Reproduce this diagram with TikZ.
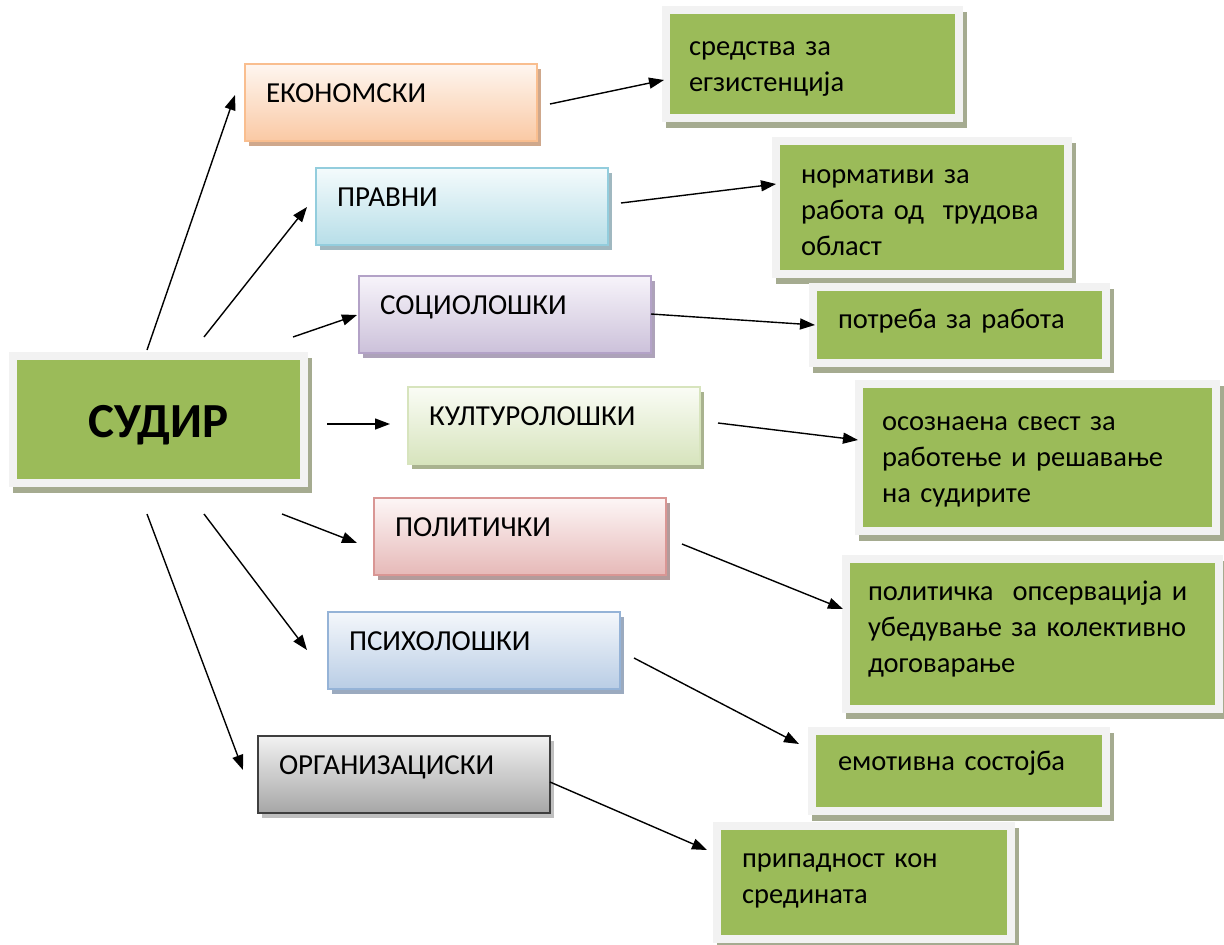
\documentclass[tikz,border=0pt]{standalone}
\usepackage{fontspec}
\setmainfont{Carlito}
\usetikzlibrary{arrows.meta,calc,shadows}
\definecolor{gfill}{HTML}{9BBB59}
\definecolor{gborder}{HTML}{F2F2F2}
\definecolor{gshadow}{HTML}{A5AB90}
\definecolor{ekoB}{HTML}{F9BE8F}\definecolor{ekoT}{HTML}{FEF6F0}\definecolor{ekoF}{HTML}{FAC9A4}\definecolor{ekoS}{HTML}{CFA88C}
\definecolor{praB}{HTML}{93CDDD}\definecolor{praT}{HTML}{F4FBFC}\definecolor{praF}{HTML}{B7DEE8}\definecolor{praS}{HTML}{A0B8C0}
\definecolor{socB}{HTML}{B3A2C7}\definecolor{socT}{HTML}{F7F4FA}\definecolor{socF}{HTML}{CCC1DA}\definecolor{socS}{HTML}{ADA2B9}
\definecolor{kulB}{HTML}{D7E4BD}\definecolor{kulT}{HTML}{FAFCF5}\definecolor{kulF}{HTML}{D7E4BD}\definecolor{kulS}{HTML}{A9B38F}
\definecolor{polB}{HTML}{D99694}\definecolor{polT}{HTML}{FDF6F6}\definecolor{polF}{HTML}{E6B9B8}\definecolor{polS}{HTML}{B39B9B}
\definecolor{psiB}{HTML}{95B3D7}\definecolor{psiT}{HTML}{F4F7FB}\definecolor{psiF}{HTML}{B9CDE5}\definecolor{psiS}{HTML}{9BAABF}
\definecolor{orgB}{HTML}{3F3F3F}\definecolor{orgT}{HTML}{F2F2F2}\definecolor{orgF}{HTML}{A6A6A6}\definecolor{orgS}{HTML}{BFBFBF}
\tikzset{
  cbox/.style={anchor=north west, rectangle, outer sep=0pt, line width=1.5pt, draw=#1B,
    top color=#1T, bottom color=#1F,
    drop shadow={shadow xshift=4pt, shadow yshift=-5pt, fill=#1S, opacity=1},
    inner xsep=21pt, inner ysep=0pt, text width=250pt, align=left,
    text height=38pt, text depth=39pt,
    font=\fontsize{29}{34}\selectfont},
  gbox/.style={anchor=north west, rectangle, outer sep=0pt, line width=8pt, draw=gborder, fill=gfill,
    drop shadow={shadow xshift=4pt, shadow yshift=-6pt, fill=gshadow, draw=gshadow, line width=8pt, opacity=1},
    inner ysep=0pt, align=left,
    font=\fontsize{28.5}{36}\selectfont},
  arr/.style={line width=1.4pt, -{Triangle[length=15pt,width=11pt]}}
}
\begin{document}
\begin{tikzpicture}[x=1pt,y=-1pt]
\useasboundingbox (0,0) rectangle (1224,945);
% central
\node[gbox, inner xsep=0pt, text width=291pt, align=center, text height=81pt, text depth=46pt,
  font=\fontsize{49}{52}\selectfont\bfseries] (sudir) at (13,356) {СУДИР};
% coloured boxes
\node[cbox=eko] (eko) at (245,64) {ЕКОНОМСКИ};
\node[cbox=pra] (pra) at (316,168) {ПРАВНИ};
\node[cbox=soc] (soc) at (359,276) {СОЦИОЛОШКИ};
\node[cbox=kul] (kul) at (408,387) {КУЛТУРОЛОШКИ};
\node[cbox=pol] (pol) at (374,498) {ПОЛИТИЧКИ};
\node[cbox=psi] (psi) at (328,612) {ПСИХОЛОШКИ};
\node[cbox=org] (org) at (258,736) {ОРГАНИЗАЦИСКИ};
% green boxes
\node[gbox, inner xsep=23pt, text width=247pt, text height=45pt, text depth=63pt] (g1) at (666,10) {средства за\\егзистенција};
\node[gbox, inner xsep=25pt, text width=242pt, text height=42pt, text depth=91pt] (g2) at (776,141) {нормативи за\\работа од~ трудова\\област};
\node[gbox, inner xsep=25pt, text width=243pt, text height=41pt, text depth=35pt] (g3) at (813,287) {потреба за работа};
\node[gbox, inner xsep=23pt, text width=311pt, text height=46pt, text depth=101pt] (g4) at (859,384) {осознаена свест за\\работење и решавање\\на судирите};
\node[gbox, inner xsep=22pt, text width=329pt, text height=41pt, text depth=109pt] (g5) at (846,559) {политичка~ опсервација и\\убедување за колективно\\договарање};
\node[gbox, inner xsep=26pt, text width=242pt, text height=39pt, text depth=41pt] (g6) at (812,731) {емотивна состојба};
\node[gbox, inner xsep=25pt, text width=244pt, text height=41pt, text depth=72pt] (g7) at (717,826) {припадност кон\\средината};
% arrows from centre
\draw[arr] ($(sudir.north west)+(134,-6)$) -- ($(eko.west)+(-10,-7.5)$);
\draw[arr] ($(sudir.north west)+(191,-19)$) -- ($(pra.west)+(-9,0.5)$);
\draw[arr] ($(sudir.north west)+(280,-19)$) -- ($(soc.west)+(-2,0.5)$);
\draw[arr] ($(sudir.east)+(23,4.5)$) -- ($(kul.west)+(-18,-1.5)$);
\draw[arr] ($(sudir.south west)+(269,31)$) -- ($(pol.west)+(-17,6.5)$);
\draw[arr] ($(sudir.south west)+(191,31)$) -- ($(psi.west)+(-21,-0.5)$);
\draw[arr] ($(sudir.south west)+(134,31)$) -- ($(org.west)+(-15,-4.5)$);
% arrows to green boxes
\draw[arr] ($(eko.east)+(13,1.5)$) -- ($(g1.west)+(-2,16)$);
\draw[arr] ($(pra.east)+(13,-3.5)$) -- ($(g2.west)+(0,-23.5)$);
\draw[arr] ($(soc.east)+(0,-0.5)$) -- ($(g3.west)+(2,0)$);
\draw[arr] ($(kul.east)+(18,-2.5)$) -- ($(g4.west)+(-1,-17.5)$);
\draw[arr] ($(pol.east)+(16,7.5)$) -- ($(g5.west)+(-3,-25)$);
\draw[arr] ($(psi.east)+(14,7.5)$) -- ($(g6.west)+(-13,-27)$);
\draw[arr] ($(org.east)+(0,7.5)$) -- ($(g7.west)+(-10,-32.5)$);
\end{tikzpicture}
\end{document}
